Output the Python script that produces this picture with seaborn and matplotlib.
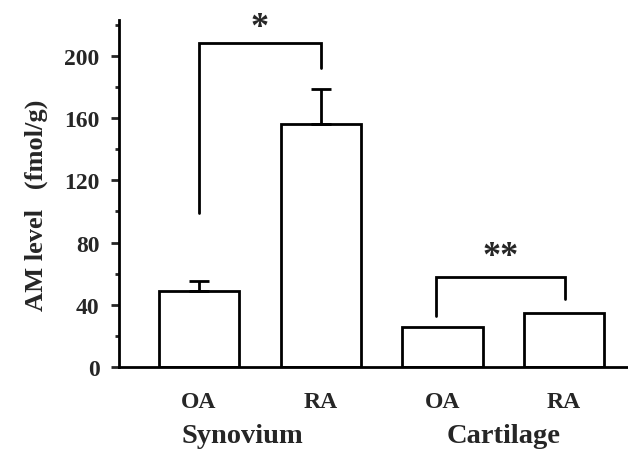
import matplotlib
matplotlib.use("Agg")
import matplotlib.pyplot as plt
from matplotlib.ticker import MultipleLocator
import seaborn as sns
import pandas as pd

# AM levels (fmol/g) by tissue and diagnosis
groups = ["Synovium", "Synovium", "Cartilage", "Cartilage"]
diagnosis = ["OA", "RA", "OA", "RA"]
am_level = [49, 156, 26, 35]
sem_upper = [6, 23, 0, 0]
group_labels = ["Synovium", "Cartilage"]
y_ticks = [0, 40, 80, 120, 160, 200]

sns.set_theme(style="white")
plt.rcParams["font.family"] = ["Liberation Serif", "DejaVu Serif"]
plt.rcParams["font.weight"] = "bold"

df = pd.DataFrame({
    "key": [f"{g} {d}" for g, d in zip(groups, diagnosis)],
    "AM": am_level,
})

fig = plt.figure(figsize=(6.28, 4.60), dpi=100)
ax = fig.add_axes([0.1895, 0.2, 0.8105, 0.754])

sns.barplot(data=df, x="key", y="AM", ax=ax, color="white", width=0.66,
            edgecolor="black", linewidth=2.0, errorbar=None)
for p in ax.patches:
    p.set_facecolor("white")
    p.set_edgecolor("black")

# one-sided error bars on synovium bars
xs = [0, 1]
ax.errorbar(xs, am_level[:2], yerr=[[0, 0], sem_upper[:2]], fmt="none",
            ecolor="black", elinewidth=2.0, capsize=7, capthick=2.0, zorder=1)

ax.set_xlim(-0.657, 3.525)
ax.set_ylim(0, 223)
ax.set_xticks(range(4))
ax.set_xticklabels(diagnosis, fontsize=17, fontweight="bold")
ax.set_yticks(y_ticks)
ax.set_yticklabels([str(v) for v in y_ticks], fontsize=17, fontweight="bold")
ax.yaxis.set_minor_locator(MultipleLocator(20))
ax.tick_params(axis="y", which="major", direction="out", length=6, width=2,
               left=True, pad=8)
ax.tick_params(axis="y", which="minor", direction="out", length=3, width=2,
               left=True)
ax.tick_params(axis="x", length=0, pad=17)
ax.set_xlabel("")
ax.set_ylabel("AM level   (fmol/g)", fontsize=19, fontweight="bold")
ax.yaxis.set_label_coords(-0.14, 0.47)

for s in ["top", "right"]:
    ax.spines[s].set_visible(False)
for s in ["left", "bottom"]:
    ax.spines[s].set_color("black")
    ax.spines[s].set_linewidth(2.0)

# tissue group labels
for xpos, lab in zip([0.36, 2.5], group_labels):
    ax.text(xpos, -0.197, lab, transform=ax.get_xaxis_transform(), ha="center",
            va="center", fontsize=20.5, fontweight="bold")

# significance brackets
def bracket(x0, x1, y_top, y_left, y_right, label, label_y):
    ax.plot([x0, x0, x1, x1], [y_left, y_top, y_top, y_right], color="black",
            lw=2.0, solid_joinstyle="miter", clip_on=False)
    ax.text((x0 + x1) / 2, label_y, label, ha="center", va="center",
            fontsize=26, fontweight="bold", clip_on=False)

bracket(0.0, 1.0, 208, 99, 192, "*", 218)
bracket(1.95, 3.01, 58, 33, 44, "**", 71)

fig.savefig("out.png", dpi=100)
